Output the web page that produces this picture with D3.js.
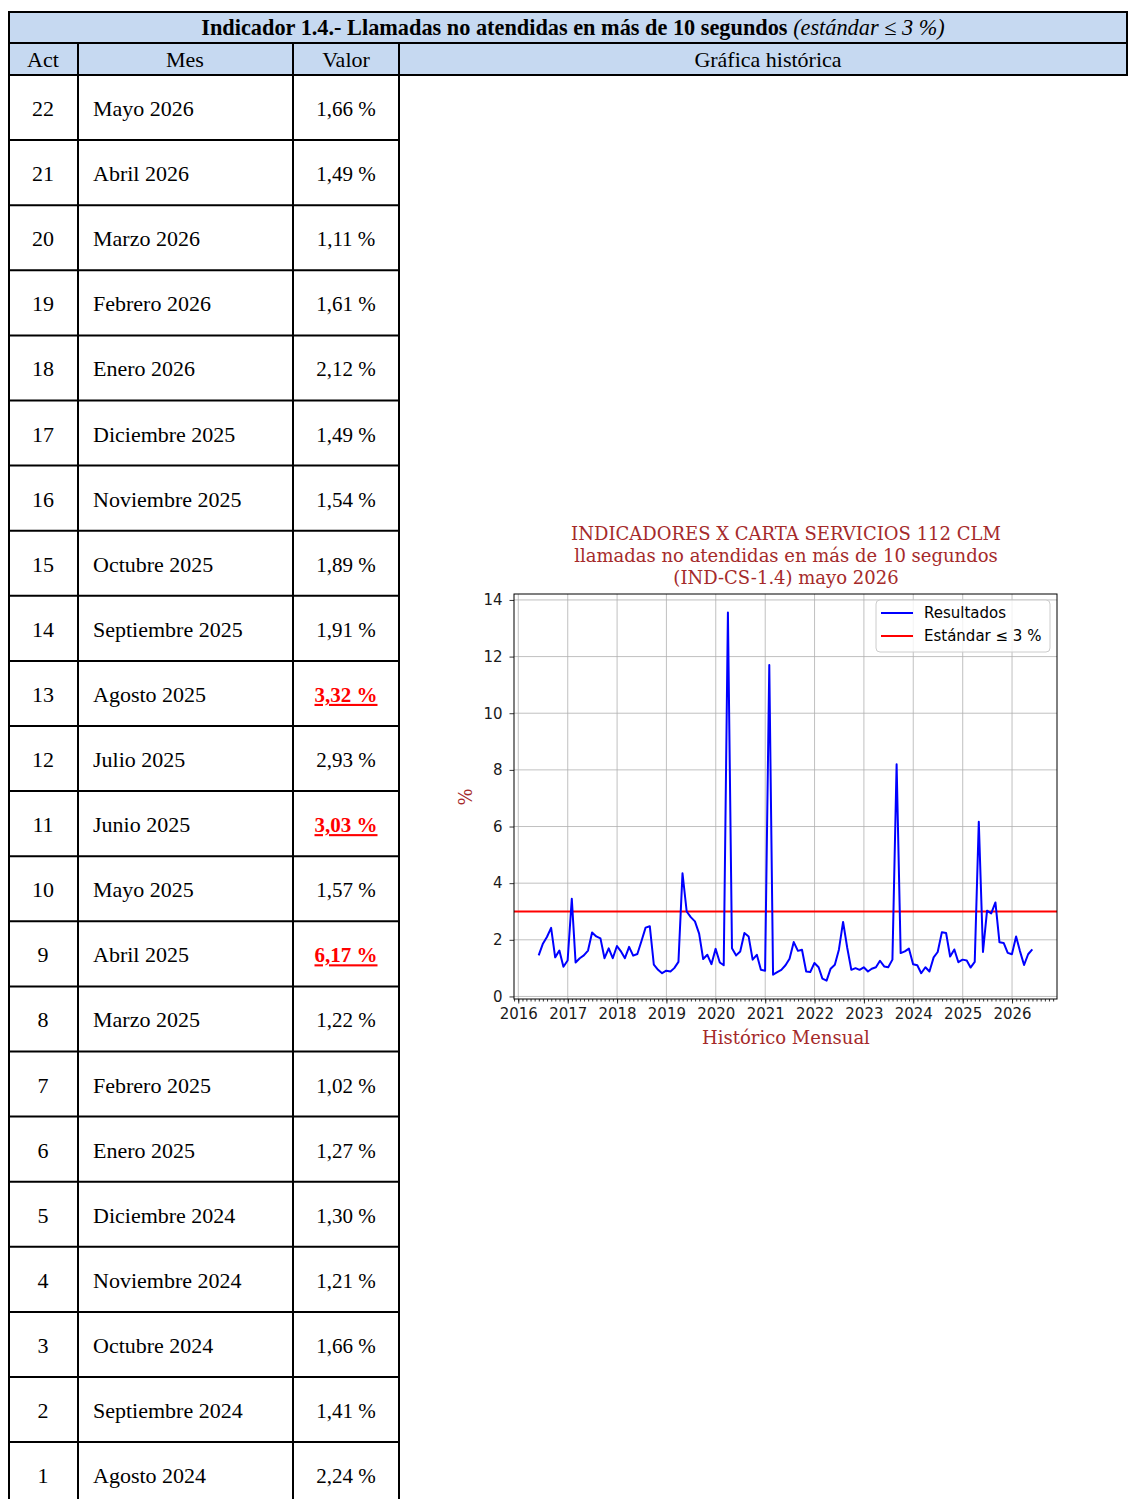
<!DOCTYPE html>
<html>
<head>
<meta charset="utf-8">
<script src="https://cdn.jsdelivr.net/npm/d3@7"></script>
<style>
  body { margin: 0; background: #fff; }
  svg { display: block; }
</style>
</head>
<body>
<svg id="page"></svg>
<script>
// ---- table data (newest first) ----
const acts = [22, 21, 20, 19, 18, 17, 16, 15, 14, 13, 12, 11, 10, 9, 8, 7, 6, 5, 4, 3, 2, 1];
const months = ["Mayo 2026", "Abril 2026", "Marzo 2026", "Febrero 2026", "Enero 2026",
  "Diciembre 2025", "Noviembre 2025", "Octubre 2025", "Septiembre 2025", "Agosto 2025",
  "Julio 2025", "Junio 2025", "Mayo 2025", "Abril 2025", "Marzo 2025", "Febrero 2025",
  "Enero 2025", "Diciembre 2024", "Noviembre 2024", "Octubre 2024", "Septiembre 2024", "Agosto 2024"];
const values = [1.66, 1.49, 1.11, 1.61, 2.12, 1.49, 1.54, 1.89, 1.91, 3.32, 2.93, 3.03,
  1.57, 6.17, 1.22, 1.02, 1.27, 1.30, 1.21, 1.66, 1.41, 2.24];
const standard = 3;

// ---- historical monthly series, May 2016 .. Jul 2024 ----
const histOld = [
  1.45, 1.85, 2.10, 2.42, 1.38, 1.62, 1.05, 1.27,             // may-dic 2016
  3.45, 1.20, 1.35, 1.45, 1.62, 2.26, 2.12, 2.05, 1.35, 1.70, 1.35, 1.78, // 2017
  1.58, 1.35, 1.75, 1.44, 1.50, 1.95, 2.43, 2.48, 1.12, 0.94, 0.82, 0.91, // 2018
  0.88, 1.00, 1.22, 4.35, 3.00, 2.80, 2.65, 2.22, 1.32, 1.47, 1.14, 1.68, // 2019
  1.20, 1.10, 13.56, 1.70, 1.45, 1.59, 2.24, 2.12, 1.30, 1.47, 0.94, 0.91, // 2020
  11.70, 0.77, 0.86, 0.94, 1.10, 1.33, 1.92, 1.61, 1.65, 0.88, 0.86, 1.18, // 2021
  1.03, 0.63, 0.56, 0.98, 1.12, 1.65, 2.63, 1.71, 0.94, 1.00, 0.94, 1.03, // 2022
  0.88, 0.98, 1.03, 1.26, 1.06, 1.03, 1.30, 8.20, 1.53, 1.59, 1.69, 1.14, // 2023
  1.10, 0.82, 1.03, 0.88, 1.38, 1.57, 2.27                     // ene-jul 2024
];
// from Aug 2024 on the series is the table, oldest first
const histValues = histOld.concat(values.slice().reverse());
const yearTicks = d3.range(2016, 2027);
const yTicks = d3.range(0, 15, 2);

const W = 1128, H = 1499;
const svg = d3.select('#page').attr('width', W).attr('height', H);

// ---- table layout ----
const colX = [9, 78, 293, 399, 1127];
const titleTop = 12, headTop = 43, bodyTop = 75, rowH = 65.1;
const headFill = '#c6d9f1';
const serif = '"Palatino Linotype","Book Antiqua",Palatino,"Liberation Serif",serif';
const fs = '22px';

svg.append('rect').attr('x', colX[0]).attr('y', titleTop)
  .attr('width', colX[4] - colX[0]).attr('height', bodyTop - titleTop)
  .attr('fill', headFill);

const title = svg.append('text')
  .attr('x', 573).attr('y', 35)
  .attr('text-anchor', 'middle')
  .style('font-family', serif).style('font-size', '22.3px');
title.append('tspan').attr('font-weight', 'bold')
  .text('Indicador 1.4.- Llamadas no atendidas en más de 10 segundos ');
title.append('tspan').attr('font-style', 'italic').text('(estándar ≤ 3 %)');

const heads = ['Act', 'Mes', 'Valor', 'Gráfica histórica'];
const headCx = [43, 185, 346, 768];
svg.selectAll('text.head').data(heads).enter().append('text')
  .attr('class', 'head')
  .attr('x', (d, i) => headCx[i]).attr('y', 67)
  .attr('text-anchor', 'middle')
  .style('font-family', serif).style('font-size', fs)
  .text(d => d);

const rows = svg.append('g').attr('class', 'rows');
acts.forEach((a, i) => {
  const top = bodyTop + i * rowH;
  const base = top + 41;
  rows.append('text').attr('x', 43).attr('y', base).attr('text-anchor', 'middle')
    .style('font-family', serif).style('font-size', fs).text(a);
  rows.append('text').attr('x', 93).attr('y', base)
    .style('font-family', serif).style('font-size', fs).text(months[i]);
  const over = values[i] > standard;
  rows.append('text').attr('x', 346).attr('y', base).attr('text-anchor', 'middle')
    .style('font-family', serif).style('font-size', '21px')
    .attr('fill', over ? '#ff0000' : '#000')
    .attr('font-weight', over ? 'bold' : 'normal')
    .attr('text-decoration', over ? 'underline' : null)
    .text(values[i].toFixed(2).replace('.', ',') + ' %');
});

// ---- table grid lines ----
const lines = svg.append('g').attr('stroke', '#000').attr('stroke-width', 2);
[titleTop, headTop, bodyTop].forEach(y => {
  lines.append('line').attr('x1', colX[0] - 1).attr('x2', colX[4] + 1).attr('y1', y).attr('y2', y);
});
for (let i = 1; i <= acts.length; i++) {
  const y = bodyTop + i * rowH;
  lines.append('line').attr('x1', colX[0] - 1).attr('x2', colX[3]).attr('y1', y).attr('y2', y);
}
[colX[0], colX[4]].forEach(x => {
  lines.append('line').attr('x1', x).attr('x2', x).attr('y1', titleTop).attr('y2', x === colX[0] ? H : bodyTop);
});
[colX[1], colX[2], colX[3]].forEach(x => {
  lines.append('line').attr('x1', x).attr('x2', x).attr('y1', headTop).attr('y2', H);
});

// ---- historical chart ----
const dates = histValues.map((v, i) => new Date(2016, 4 + i + 1, 0)); // month ends
const first = dates[0], last = dates[dates.length - 1];
const pad = (last - first) * 0.05;
const x = d3.scaleTime()
  .domain([new Date(+first - pad), new Date(+last + pad)])
  .range([514, 1057]);
const [vmin, vmax] = d3.extent(histValues);
const vpad = (vmax - vmin) * 0.05;
const y = d3.scaleLinear().domain([vmin - vpad, vmax + vpad]).range([999, 594]);

const chartRed = '#a52a2a';
const sans = '"DejaVu Sans", sans-serif';
const chartSerif = '"DejaVu Serif", serif';

const chart = svg.append('g').attr('class', 'chart');

// grid
const grid = chart.append('g').attr('stroke', '#b0b0b0').attr('stroke-width', 0.8);
yearTicks.forEach(yr => {
  const px = x(new Date(yr, 0, 1));
  grid.append('line').attr('x1', px).attr('x2', px).attr('y1', 594).attr('y2', 999);
});
yTicks.forEach(t => {
  grid.append('line').attr('x1', 514).attr('x2', 1057).attr('y1', y(t)).attr('y2', y(t));
});

// standard line and results
chart.append('line')
  .attr('x1', 514).attr('x2', 1057).attr('y1', y(standard)).attr('y2', y(standard))
  .attr('stroke', '#ff0000').attr('stroke-width', 2);

const line = d3.line().x((d, i) => x(dates[i])).y(d => y(d));
chart.append('path').datum(histValues)
  .attr('d', line)
  .attr('fill', 'none').attr('stroke', '#0000ff').attr('stroke-width', 2)
  .attr('stroke-linejoin', 'round');

// axes
const xAxis = d3.axisBottom(x)
  .tickValues(yearTicks.map(yr => new Date(yr, 0, 1)))
  .tickFormat(d3.timeFormat('%Y'))
  .tickSize(4.5).tickPadding(5);
const xMinor = d3.axisBottom(x)
  .tickValues(d3.timeMonth.range(x.domain()[0], x.domain()[1]))
  .tickFormat('').tickSize(2.5);
const yAxis = d3.axisLeft(y).tickValues(yTicks).tickSize(4.5).tickPadding(7);

const gx = chart.append('g').attr('transform', 'translate(0,999)').call(xAxis);
const gxm = chart.append('g').attr('transform', 'translate(0,999)').call(xMinor);
const gy = chart.append('g').attr('transform', 'translate(514,0)').call(yAxis);
[gx, gxm, gy].forEach(g => {
  g.select('.domain').remove();
  g.selectAll('line').attr('stroke', '#000').attr('stroke-width', 0.8);
  g.selectAll('text').style('font-family', sans).style('font-size', '15px').attr('fill', '#1a1a1a');
});

// frame
chart.append('rect').attr('x', 514).attr('y', 594).attr('width', 543).attr('height', 405)
  .attr('fill', 'none').attr('stroke', '#000').attr('stroke-width', 1);

// titles
const titleLines = ['INDICADORES X CARTA SERVICIOS 112 CLM',
  'llamadas no atendidas en más de 10 segundos', '(IND-CS-1.4) mayo 2026'];
chart.selectAll('text.ctitle').data(titleLines).enter().append('text')
  .attr('class', 'ctitle')
  .attr('x', 786).attr('y', (d, i) => 540 + i * 22)
  .attr('text-anchor', 'middle').attr('fill', chartRed)
  .style('font-family', chartSerif).style('font-size', '18px')
  .text(d => d);
chart.append('text').attr('x', 786).attr('y', 1044).attr('text-anchor', 'middle')
  .attr('fill', chartRed).style('font-family', chartSerif).style('font-size', '18px')
  .text('Histórico Mensual');
chart.append('text')
  .attr('transform', 'translate(472,797) rotate(-90)')
  .attr('text-anchor', 'middle').attr('fill', chartRed)
  .style('font-family', chartSerif).style('font-size', '18px')
  .text('%');

// legend
const legend = chart.append('g').attr('transform', 'translate(876,600)');
legend.append('rect').attr('width', 174).attr('height', 52).attr('rx', 4)
  .attr('fill', '#fff').attr('fill-opacity', 0.8).attr('stroke', '#cccccc');
const legendItems = [{ label: 'Resultados', color: '#0000ff' }, { label: 'Estándar ≤ 3 %', color: '#ff0000' }];
legendItems.forEach((d, i) => {
  const ly = 13 + i * 23;
  legend.append('line').attr('x1', 5).attr('x2', 37).attr('y1', ly).attr('y2', ly)
    .attr('stroke', d.color).attr('stroke-width', 2);
  legend.append('text').attr('x', 48).attr('y', ly + 5)
    .style('font-family', sans).style('font-size', '15px').text(d.label);
});
</script>
</body>
</html>
